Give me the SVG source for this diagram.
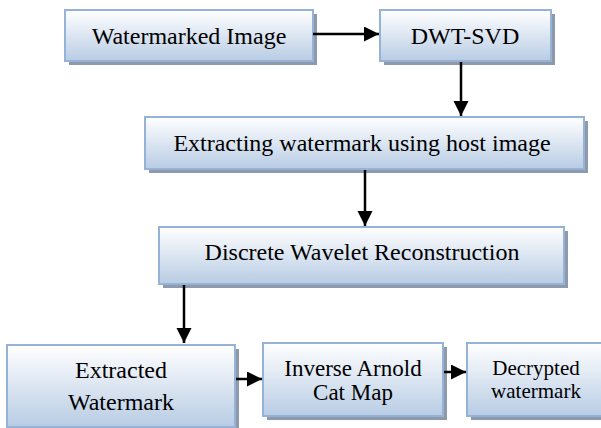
<svg xmlns="http://www.w3.org/2000/svg" width="601" height="428" viewBox="0 0 601 428">
<defs>
<linearGradient id="g" x1="0" y1="0" x2="0" y2="1">
<stop offset="0" stop-color="#ffffff"/>
<stop offset="1" stop-color="#b8cce4"/>
</linearGradient>
<marker id="ah" markerWidth="16" markerHeight="16" refX="15" refY="7.5" orient="auto" markerUnits="userSpaceOnUse">
<path d="M0,0 L15,7.5 L0,15 Z" fill="#000"/>
</marker>
</defs>
<style>
.sh{fill:#8e9aab}
.bx{fill:url(#g);stroke:#95b3d7;stroke-width:2}
.t{font-family:"Liberation Serif","Times New Roman",serif;font-size:24px;fill:#000;text-anchor:middle}
.c{stroke:#000;stroke-width:2.5;fill:none;marker-end:url(#ah)}
</style>
<rect width="601" height="428" fill="#fff"/>
<g id="n1">
<rect class="sh" x="69" y="14" width="248" height="51"/>
<rect class="bx" x="65" y="10" width="248" height="51"/>
<text class="t" x="189" y="44">Watermarked Image</text>
</g>
<g id="n2">
<rect class="sh" x="384" y="14" width="171" height="51"/>
<rect class="bx" x="380" y="10" width="171" height="51"/>
<text class="t" x="465" y="44">DWT-SVD</text>
</g>
<g id="n3">
<rect class="sh" x="149" y="121" width="439" height="52"/>
<rect class="bx" x="145" y="117" width="439" height="52"/>
<text class="t" x="362" y="151">Extracting watermark using host image</text>
</g>
<g id="n4">
<rect class="sh" x="163" y="231" width="405" height="57"/>
<rect class="bx" x="159" y="227" width="405" height="57"/>
<text class="t" x="362" y="260">Discrete Wavelet Reconstruction</text>
</g>
<g id="n5">
<rect class="sh" x="11" y="349" width="228" height="82"/>
<rect class="bx" x="7" y="345" width="228" height="82"/>
<text class="t" x="121" y="378">Extracted</text>
<text class="t" x="121" y="410">Watermark</text>
</g>
<g id="n6">
<rect class="sh" x="267" y="347" width="180" height="73"/>
<rect class="bx" x="263" y="343" width="180" height="73"/>
<text class="t" x="353" y="376" style="font-size:23px">Inverse Arnold</text>
<text class="t" x="353" y="400" style="font-size:23px">Cat Map</text>
</g>
<g id="n7">
<rect class="sh" x="471" y="347" width="140" height="73"/>
<rect class="bx" x="467" y="343" width="140" height="73"/>
<text class="t" x="536" y="375" style="font-size:21px">Decrypted</text>
<text class="t" x="536" y="398" style="font-size:21px">watermark</text>
</g>
<g id="connectors">
<line class="c" x1="313" y1="34" x2="379" y2="34"/>
<line class="c" x1="461" y1="62" x2="461" y2="116"/>
<line class="c" x1="365" y1="170" x2="365" y2="226"/>
<line class="c" x1="184" y1="285" x2="184" y2="343"/>
<line class="c" x1="236" y1="379" x2="262" y2="379"/>
<line class="c" x1="444" y1="372" x2="466" y2="372"/>
</g>
</svg>
